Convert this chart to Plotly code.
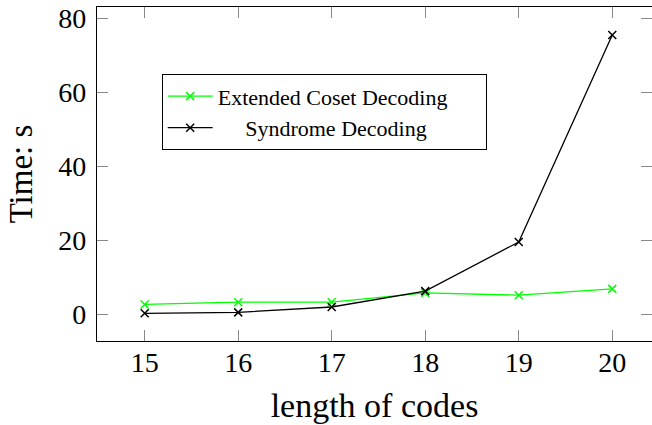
import plotly.graph_objects as go

lengths = [15, 16, 17, 18, 19, 20]
extended_coset = [2.6, 3.2, 3.2, 5.7, 5.1, 6.8]
syndrome = [0.2, 0.45, 1.9, 6.2, 19.5, 75.5]
y_ticks = [0, 20, 40, 60, 80]
NB = "\u00a0"
series_names = ["Extended Coset Decoding" + NB * 6, NB * 5 + "Syndrome Decoding"]

FONT = "Liberation Serif"
W, H = 652, 425
ML, MT, MB = 97, 7, 84

fig = go.Figure()
fig.add_trace(go.Scatter(
    x=lengths, y=extended_coset, name=series_names[0], mode="lines+markers",
    line=dict(color="#00ff00", width=1.3),
    marker=dict(symbol="x-thin-open", size=8, color="#00ff00", line=dict(width=1.5, color="#00ff00")),
))
fig.add_trace(go.Scatter(
    x=lengths, y=syndrome, name=series_names[1], mode="lines+markers",
    line=dict(color="black", width=1.3),
    marker=dict(symbol="x-thin-open", size=8, color="black", line=dict(width=1.5, color="black")),
))
# helper trace for the right-side mirrored ticks
fig.add_trace(go.Scatter(x=[None], y=[None], yaxis="y2", showlegend=False, hoverinfo="skip"))

yr = [-7.3, 83.1]
fig.update_layout(
    width=W, height=H,
    margin=dict(l=ML, r=0, t=MT, b=MB),
    paper_bgcolor="white", plot_bgcolor="white",
    font=dict(family=FONT, color="black"),
    xaxis=dict(
        range=[14.49, 20.425], tickvals=lengths, ticks="inside", ticklen=11, tickwidth=1,
        tickcolor="#888", showline=True, linecolor="black", linewidth=1.2, mirror="ticks",
        showgrid=False, zeroline=False, tickfont=dict(size=28, family=FONT),
        ticklabelstandoff=-4,
        title=dict(text="length of codes", font=dict(size=34, family=FONT), standoff=16),
    ),
    yaxis=dict(
        range=yr, tickvals=y_ticks, ticks="inside", ticklen=11, tickwidth=1,
        tickcolor="#888", showline=True, linecolor="black", linewidth=1.2, mirror=False,
        showgrid=False, zeroline=False, tickfont=dict(size=28, family=FONT),
        ticklabelstandoff=4,
        title=dict(text="Time: s", font=dict(size=33, family=FONT), standoff=15),
    ),
    yaxis2=dict(
        range=yr, tickvals=y_ticks, ticks="inside", ticklen=11, tickwidth=1, tickcolor="#888",
        overlaying="y", side="right", showticklabels=False, showgrid=False, zeroline=False,
        showline=False,
    ),
    legend=dict(
        x=(161.7 - ML) / (W - ML), y=(341 - 74.3) / (341 - MT), xanchor="left", yanchor="top",
        bordercolor="black", borderwidth=1, bgcolor="white",
        font=dict(size=22, family=FONT), itemwidth=45, tracegroupgap=0,
    ),
    showlegend=True,
)

fig.write_html("out.html")
